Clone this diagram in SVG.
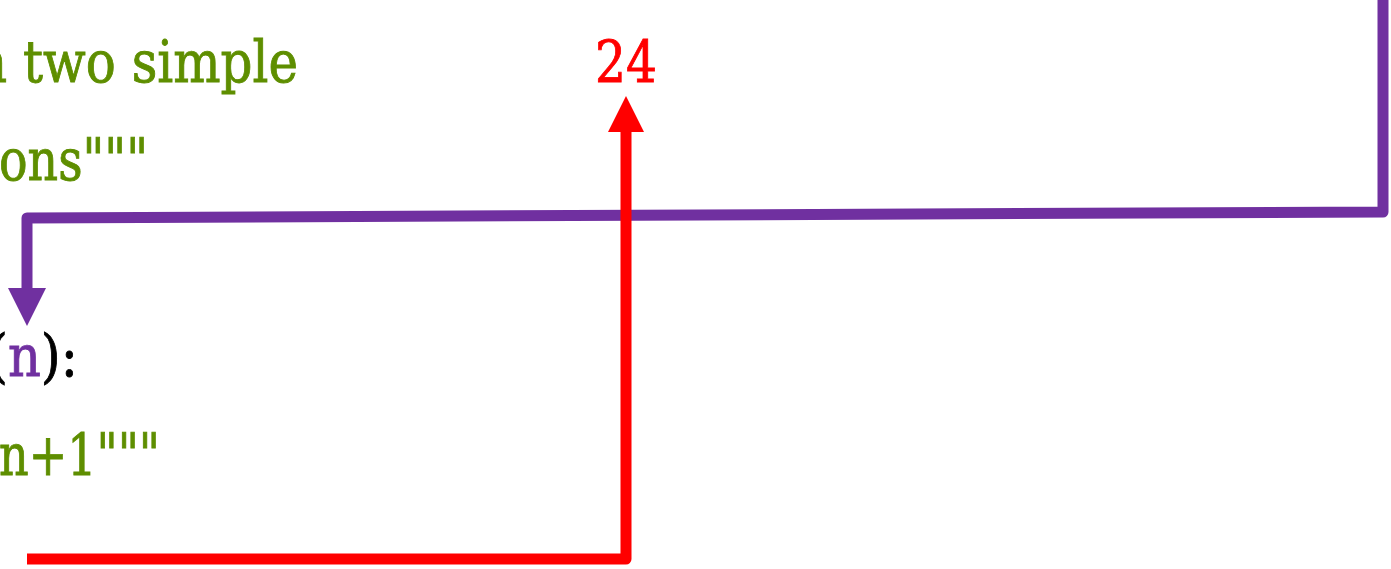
<svg xmlns="http://www.w3.org/2000/svg" width="1391" height="569" viewBox="0 0 1391 569">
  <style>
    .code { font-family: "DejaVu Serif", "Liberation Serif", serif; font-size: 58px; stroke-width: 0.9px; }
    .green { fill: #5e8e00; stroke: #5e8e00; }
    .black { fill: #000000; stroke: #000000; }
    .purple { fill: #7030a0; stroke: #7030a0; }
    .red { fill: #ff0000; stroke: #ff0000; }
    .wire { fill: none; stroke-width: 11; stroke-linejoin: round; }
  </style>
  <defs>
    <marker id="headPurple" markerUnits="userSpaceOnUse" viewBox="0 0 38 38" refX="0" refY="19" markerWidth="38" markerHeight="38" orient="auto">
      <path d="M0,0 L38,19 L0,38 Z" fill="#7030a0"/>
    </marker>
    <marker id="headRed" markerUnits="userSpaceOnUse" viewBox="0 0 36 36" refX="0" refY="18" markerWidth="36" markerHeight="36" orient="auto">
      <path d="M0,0 L36,18 L0,36 Z" fill="#ff0000"/>
    </marker>
  </defs>
  <rect width="1391" height="569" fill="#ffffff"/>

  <g id="line-docstring-1">
    <text class="code green" x="-25" y="82" textLength="323" lengthAdjust="spacingAndGlyphs">n two simple</text>
  </g>
  <g id="line-docstring-2">
    <text class="code green" x="-1" y="180" textLength="149" lengthAdjust="spacingAndGlyphs">ons"""</text>
  </g>
  <g id="line-def">
    <text class="code black" x="-12" y="376" textLength="90" lengthAdjust="spacingAndGlyphs">(<tspan class="purple">n</tspan>):</text>
  </g>
  <g id="line-docstring-3">
    <text class="code green" x="-1" y="475" textLength="161" lengthAdjust="spacingAndGlyphs">n+1"""</text>
  </g>
  <g id="result-24">
    <text class="code red" x="595" y="82" font-size="66" textLength="62" lengthAdjust="spacingAndGlyphs">24</text>
  </g>

  <g id="connectors">
    <path class="wire" stroke="#7030a0" d="M1383,0 L1383,212 L27,218 L27,288" marker-end="url(#headPurple)"/>
    <path class="wire" stroke="#ff0000" d="M27,559 L626,559 L626,132" marker-end="url(#headRed)"/>
  </g>
</svg>
